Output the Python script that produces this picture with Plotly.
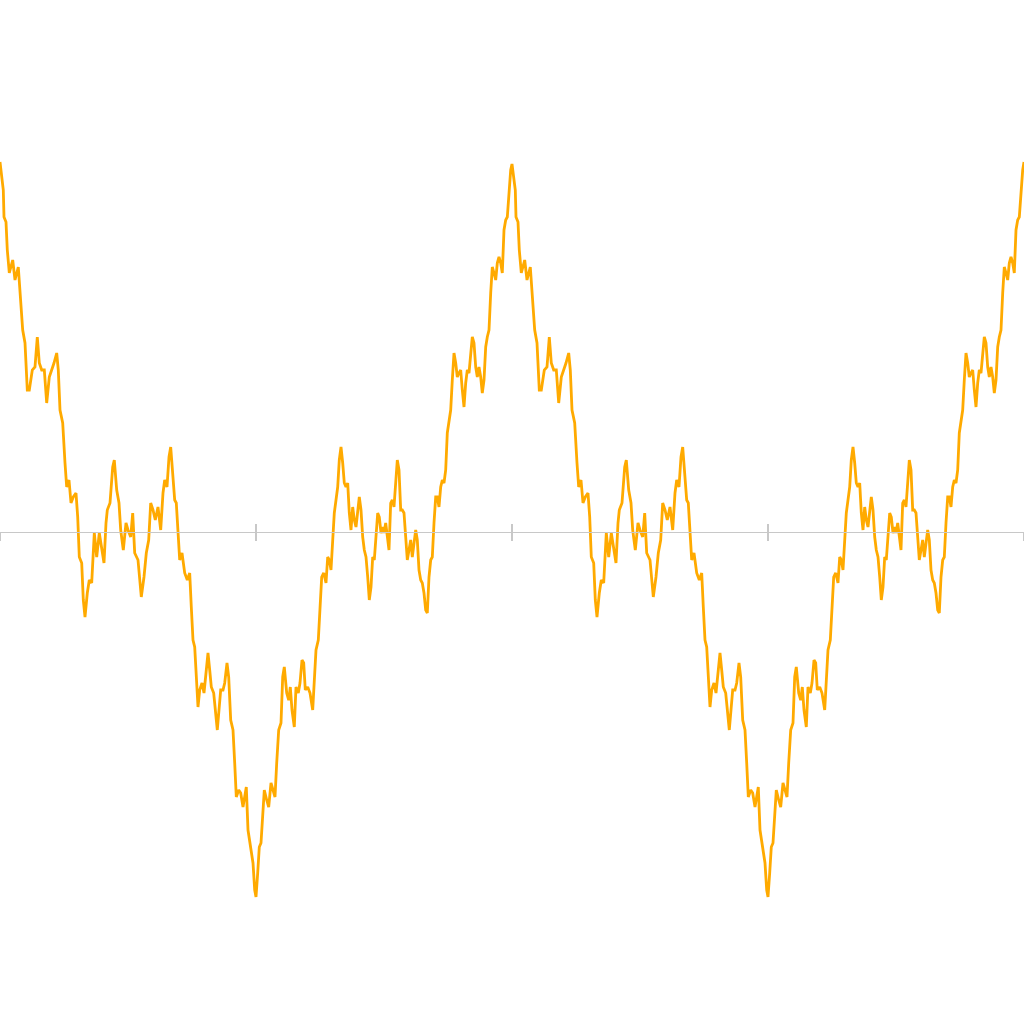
import plotly.graph_objects as go

# Values (x: position along the axis, y: height above the zero line)
x_seg1 = [0, 3.3, 4, 6, 7.3, 9.3, 12.7, 15, 18.3, 20.7, 22.7, 25, 27.3, 29.3, 32.3, 35, 37.3, 39.3, 41.7, 44.3,
          46.7, 49.3, 51.7, 54, 56.7, 58.3, 60, 62.7, 65, 66.7, 69, 71, 73.3, 76, 77.7, 79.3, 81.7, 83.3, 85, 87.3,
          89.3, 91.7, 94.3, 96.7, 99.3, 101.7, 104, 106, 107.3, 110, 112.7, 114.3, 116.7, 119, 120.7, 123.3, 126]
y_seg1 = [370, 342, 315, 310, 282, 259, 272, 252, 265, 235, 202, 189, 142, 142, 162, 165, 195, 169, 162, 162,
          129, 155, 162, 169, 179, 162, 122, 109, 69, 45, 52, 29, 35, 39, 15, -25, -31, -68, -85, -61,
          -48, -51, -1, -25, -1, -18, -31, 9, 22, 29, 65, 72, 42, 29, 2, -18, 9]

x_seg2 = [128, 130.7, 132.7, 134.7, 138, 141.3, 144, 146.3, 148.7, 150.7, 153, 155.3, 158, 160.7, 163, 164.7,
          167, 169, 170.7, 172.3, 174.7, 176.3, 178, 179.7, 182, 184.7, 187.3, 189.7, 191.3, 193, 194.7, 196.3,
          198, 199.7, 202, 204, 206.3, 208, 209.7, 211.3, 213.7, 215.3, 217.3, 219, 220.7, 223, 224.7, 227,
          228.7, 230.7, 233, 234.7, 236.3, 238.7, 240.7, 243, 244.7, 246.3, 248, 250.7, 253, 254.7]
y_seg2 = [2, -5, 19, -21, -28, -65, -45, -21, -8, 29, 22, 12, 25, 2, 39, 52,
          45, 75, 85, 65, 32, 29, -5, -28, -21, -41, -48, -41, -75, -108, -115, -148,
          -175, -158, -151, -161, -138, -121, -138, -155, -161, -175, -198, -178, -158, -158, -151, -131,
          -145, -188, -198, -231, -265, -258, -261, -275, -265, -255, -298, -315, -331, -358]

x_seg3 = [256, 257.7, 259.3, 261, 262.7, 264.3, 266.7, 268.7, 271, 272.7, 275, 276.7, 278.7, 281, 282.7, 284.3,
          286.7, 288.7, 290.3, 292, 294.3, 296, 298.3, 300, 302, 303.7, 305.3, 307.7, 310, 312.7, 314.3, 316,
          318.3, 320, 321.7, 323.7, 326, 327.7, 329.3, 331, 332.7, 334.3, 336, 337.7, 339.3, 341, 342.7, 344.3,
          346, 347.7, 349.3, 351, 352.7, 354.3, 356, 357.7, 359.3, 361, 362.7, 364.3, 366, 367.7, 369.3, 371,
          372.7, 374.3, 376, 377.7, 379.3, 381, 382.7]
y_seg3 = [-365, -341, -315, -311, -281, -258, -268, -275, -251, -258, -265, -231, -198, -191, -145, -135,
          -161, -168, -155, -178, -195, -155, -161, -151, -128, -131, -158, -155, -161, -178, -151, -118,
          -108, -78, -45, -41, -51, -25, -28, -38, -11, 19, 32, 45, 72, 85, 69, 49,
          45, 49, 19, 2, 25, 12, 5, 25, 35, 22, -5, -18, -25, -45, -68, -55,
          -25, -28, -8, 19, 15, -1, 5]

x_seg4 = [384, 385.7, 387.3, 389, 390.7, 392.3, 394, 395.7, 397.3, 399, 400.7, 402.3, 404, 405.7, 407.3, 409,
          410.7, 412.3, 414, 415.7, 417.3, 419, 420.7, 422.3, 424, 425.7, 427.3, 429, 430.7, 432.3, 434, 435.7,
          437.3, 439, 440.7, 442.3, 444, 445.7, 447.3, 449, 450.7, 452.3, 454, 455.7, 457.3, 459, 460.7, 462.3,
          464, 465.7, 467.3, 469, 470.7, 472.3, 474, 475.7, 477.3, 479, 480.7, 482.3, 484, 485.7, 487.3, 489,
          490.7, 492.3, 494, 495.7, 497.3, 499, 500.7, 502.3, 504, 505.7, 507.3, 509, 510.7]
y_seg4 = [-1, 9, -5, -18, 29, 32, 25, 52, 72, 62, 22, 22, 19, -5, -28, -18,
          -8, -25, -11, 2, -8, -38, -48, -51, -61, -78, -81, -45, -28, -25, 9, 35,
          35, 25, 45, 52, 49, 62, 99, 109, 122, 152, 179, 169, 155, 159, 162, 142,
          125, 149, 162, 159, 175, 195, 189, 165, 155, 165, 155, 139, 152, 185, 195, 202,
          239, 265, 259, 252, 269, 275, 269, 259, 302, 312, 315, 339, 362]

x_seg5 = [512, 515.3, 516, 518, 519.3, 521.3, 524.7, 527, 530.3, 532.7, 534.7, 537, 539.3, 541.3, 544.3, 547,
          549.3, 551.3, 553.7, 556.3, 558.7, 561.3, 563.7, 566, 568.7, 570.3, 572, 574.7, 577, 578.7, 581, 583,
          585.3, 588, 589.7, 591.3, 593.7, 595.3, 597, 599.3, 601.3, 603.7, 606.3, 608.7, 611.3, 613.7, 616, 618,
          619.3, 622, 624.7, 626.3, 628.7, 631, 632.7, 635.3, 638]
y_seg5 = [368, 342, 315, 310, 282, 259, 272, 252, 265, 235, 202, 189, 142, 142, 162, 165, 195, 169, 162, 162,
          129, 155, 162, 169, 179, 162, 122, 109, 69, 45, 52, 29, 35, 39, 15, -25, -31, -68, -85, -61,
          -48, -51, -1, -25, -1, -18, -31, 9, 22, 29, 65, 72, 42, 29, 2, -18, 9]

x_seg6 = [640, 642.7, 644.7, 646.7, 650, 653.3, 656, 658.3, 660.7, 662.7, 665, 667.3, 670, 672.7, 675, 676.7,
          679, 681, 682.7, 684.3, 686.7, 688.3, 690, 691.7, 694, 696.7, 699.3, 701.7, 703.3, 705, 706.7, 708.3,
          710, 711.7, 714, 716, 718.3, 720, 721.7, 723.3, 725.7, 727.3, 729.3, 731, 732.7, 735, 736.7, 739,
          740.7, 742.7, 745, 746.7, 748.3, 750.7, 752.7, 755, 756.7, 758.3, 760, 762.7, 765, 766.7]
y_seg6 = [2, -5, 19, -21, -28, -65, -45, -21, -8, 29, 22, 12, 25, 2, 39, 52,
          45, 75, 85, 65, 32, 29, -5, -28, -21, -41, -48, -41, -75, -108, -115, -148,
          -175, -158, -151, -161, -138, -121, -138, -155, -161, -175, -198, -178, -158, -158, -151, -131,
          -145, -188, -198, -231, -265, -258, -261, -275, -265, -255, -298, -315, -331, -358]

x_seg7 = [768, 769.7, 771.3, 773, 774.7, 776.3, 778.7, 780.7, 783, 784.7, 787, 788.7, 790.7, 793, 794.7, 796.3,
          798.7, 800.7, 802.3, 804, 806.3, 808, 810.3, 812, 814, 815.7, 817.3, 819.7, 822, 824.7, 826.3, 828,
          830.3, 832, 833.7, 835.7, 838, 839.7, 841.3, 843, 844.7, 846.3, 848, 849.7, 851.3, 853, 854.7, 856.3,
          858, 859.7, 861.3, 863, 864.7, 866.3, 868, 869.7, 871.3, 873, 874.7, 876.3, 878, 879.7, 881.3, 883,
          884.7, 886.3, 888, 889.7, 891.3, 893, 894.7]
y_seg7 = [-365, -341, -315, -311, -281, -258, -268, -275, -251, -258, -265, -231, -198, -191, -145, -135,
          -161, -168, -155, -178, -195, -155, -161, -151, -128, -131, -158, -155, -161, -178, -151, -118,
          -108, -78, -45, -41, -51, -25, -28, -38, -11, 19, 32, 45, 72, 85, 69, 49,
          45, 49, 19, 2, 25, 12, 5, 25, 35, 22, -5, -18, -25, -45, -68, -55,
          -25, -28, -8, 19, 15, -1, 5]

x_seg8 = [896, 897.7, 899.3, 901, 902.7, 904.3, 906, 907.7, 909.3, 911, 912.7, 914.3, 916, 917.7, 919.3, 921,
          922.7, 924.3, 926, 927.7, 929.3, 931, 932.7, 934.3, 936, 937.7, 939.3, 941, 942.7, 944.3, 946, 947.7,
          949.3, 951, 952.7, 954.3, 956, 957.7, 959.3, 961, 962.7, 964.3, 966, 967.7, 969.3, 971, 972.7, 974.3,
          976, 977.7, 979.3, 981, 982.7, 984.3, 986, 987.7, 989.3, 991, 992.7, 994.3, 996, 997.7, 999.3, 1001,
          1002.7, 1004.3, 1006, 1007.7, 1009.3, 1011, 1012.7, 1014.3, 1016, 1017.7, 1019.3, 1021, 1022.7, 1024]
y_seg8 = [-1, 9, -5, -18, 29, 32, 25, 52, 72, 62, 22, 22, 19, -5, -28, -18,
          -8, -25, -11, 2, -8, -38, -48, -51, -61, -78, -81, -45, -28, -25, 9, 35,
          35, 25, 45, 52, 49, 62, 99, 109, 122, 152, 179, 169, 155, 159, 162, 142,
          125, 149, 162, 159, 175, 195, 189, 165, 155, 165, 155, 139, 152, 185, 195, 202,
          239, 265, 259, 252, 269, 275, 269, 259, 302, 312, 315, 339, 362, 370]

tick_positions = [0, 256, 512, 768, 1024]

x_all = x_seg1 + x_seg2 + x_seg3 + x_seg4 + x_seg5 + x_seg6 + x_seg7 + x_seg8
y_all = y_seg1 + y_seg2 + y_seg3 + y_seg4 + y_seg5 + y_seg6 + y_seg7 + y_seg8

X_RANGE = [0, 1024]
Y_RANGE = [-492, 532]
axis_pos = (0 - Y_RANGE[0]) / (Y_RANGE[1] - Y_RANGE[0])
AXIS_COLOR = "#c8c8c8"

fig = go.Figure()
fig.add_trace(go.Scatter(x=x_all, y=y_all, mode="lines",
                         line=dict(color="#ffaa00", width=2.8),
                         hoverinfo="skip", showlegend=False))
# empty trace so the overlaying axis (upward tick halves) is drawn
fig.add_trace(go.Scatter(x=[], y=[], xaxis="x2", yaxis="y", showlegend=False))

common = dict(range=X_RANGE, tickvals=tick_positions, showticklabels=False,
              showgrid=False, zeroline=False, anchor="free", position=axis_pos,
              tickcolor=AXIS_COLOR, tickwidth=2, ticklen=8)
fig.update_layout(
    width=1024, height=1024,
    margin=dict(l=0, r=0, t=0, b=0),
    paper_bgcolor="white", plot_bgcolor="white",
    xaxis=dict(**common, ticks="outside", showline=True, linecolor=AXIS_COLOR, linewidth=1),
    xaxis2=dict(**common, ticks="inside", showline=False, overlaying="x", side="bottom"),
    yaxis=dict(range=Y_RANGE, visible=False, showgrid=False, zeroline=False),
)
fig.write_html("out.html", config={"displayModeBar": False},
               post_script="document.body.style.margin='0';document.body.style.overflow='hidden';")
